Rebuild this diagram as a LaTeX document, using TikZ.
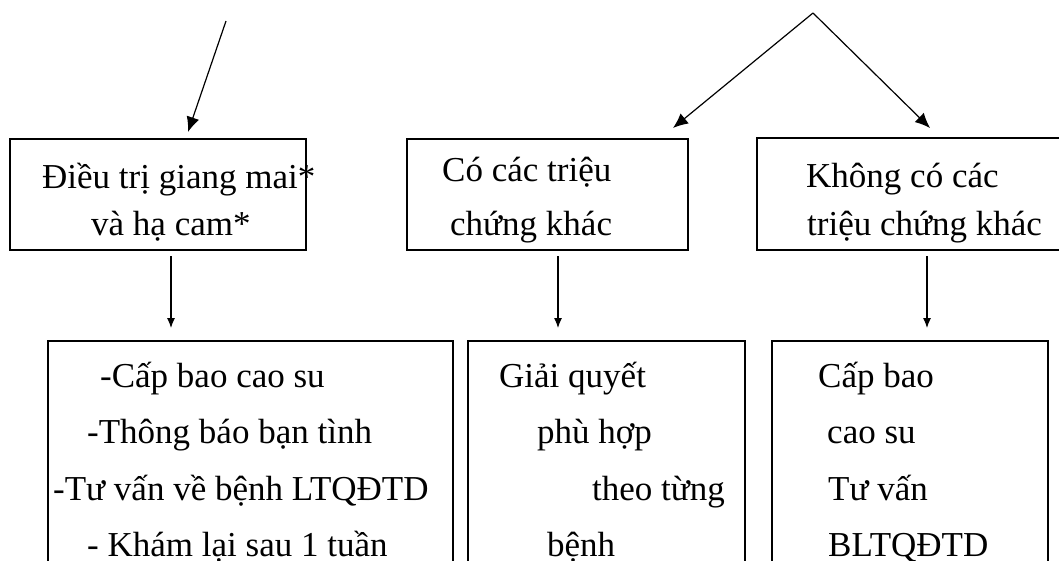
\documentclass[tikz,border=0pt]{standalone}
\usepackage{fontspec}
\setmainfont{Liberation Serif}
\usetikzlibrary{arrows.meta}
\begin{document}
\begin{tikzpicture}[x=1pt,y=-1pt,
  box/.style={draw, line width=2pt, inner sep=0pt},
  txt/.style={inner sep=0pt, anchor=base west, font=\fontsize{35}{42}\selectfont},
  arr/.style={line width=1.1pt, -{Latex[length=10pt,width=8pt]}},
  bigarr/.style={line width=1.2pt, -{Latex[length=15pt,width=13pt]}}]
\useasboundingbox (0,0) rectangle (1059,560);
\clip (0,0) rectangle (1059,560);
% boxes
\node[box, minimum width=296.5pt, minimum height=111.5pt] (b1) at (157.75,194.25) {};
\node[box, minimum width=281pt, minimum height=111pt] (b2) at (547.5,194.5) {};
\node[box, minimum width=308pt, minimum height=112pt] (b3) at (911,194) {};
\node[box, minimum width=405pt, minimum height=259pt] (b4) at (250.5,470.5) {};
\node[box, minimum width=277pt, minimum height=259pt] (b5) at (606.5,470.5) {};
\node[box, minimum width=276pt, minimum height=259pt] (b6) at (910,470.5) {};
% texts
\node[txt] (t11) at (42,188) {Điều trị giang mai*};
\node[txt] (t12) at (91,235) {và hạ cam*};
\node[txt] (t21) at (442,181) {Có các triệu};
\node[txt] (t22) at (450,235) {chứng khác};
\node[txt] (t31) at (806,187) {Không có các};
\node[txt] (t32) at (807,235) {triệu chứng khác};
\node[txt] (t41) at (100,387) {-Cấp bao cao su};
\node[txt] (t42) at (87,443) {-Thông báo bạn tình};
\node[txt] (t43) at (53,500) {-Tư vấn về bệnh LTQĐTD};
\node[txt] (t44) at (87,556) {- Khám lại sau 1 tuần};
\node[txt] (t51) at (499,387) {Giải quyết};
\node[txt] (t52) at (537,443) {phù hợp};
\node[txt] (t53) at (592,500) {theo từng};
\node[txt] (t54) at (547,556) {bệnh};
\node[txt] (t61) at (818,387) {Cấp bao};
\node[txt] (t62) at (827,443) {cao su};
\node[txt] (t63) at (828,500) {Tư vấn};
\node[txt] (t64) at (828,556) {BLTQĐTD};
% connectors
\coordinate (s1) at (226,21);
\coordinate (e1) at (188,132);
\coordinate (apex) at (813,13);
\coordinate (e2) at (673,128);
\coordinate (e3) at (930,128);
\draw[bigarr] (s1) -- (e1);
\draw[bigarr] (apex) -- (e2);
\draw[bigarr] (apex) -- (e3);
\coordinate (v1) at (171,0);
\coordinate (v2) at (558,0);
\coordinate (v3) at (927,0);
\draw[arr, shorten <=5pt, shorten >=12pt] (b1.south -| v1) -- (b4.north -| v1);
\draw[arr, shorten <=5pt, shorten >=12pt] (b2.south -| v2) -- (b5.north -| v2);
\draw[arr, shorten <=5pt, shorten >=12pt] (b3.south -| v3) -- (b6.north -| v3);
\end{tikzpicture}
\end{document}
